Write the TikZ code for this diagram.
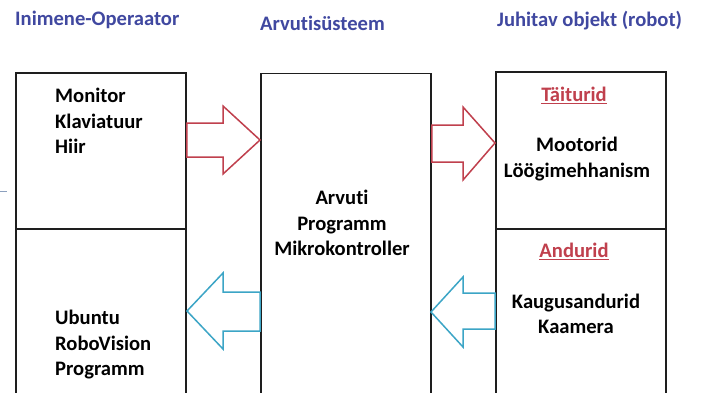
\documentclass[tikz,border=0pt]{standalone}
\usepackage{fontspec}
\setmainfont[Ligatures=CommonOff]{Carlito}
\definecolor{titleblue}{RGB}{64,72,160}
\definecolor{arrred}{RGB}{192,64,77}
\definecolor{arrblue}{RGB}{60,165,198}
\definecolor{boxline}{RGB}{30,30,30}
\definecolor{strayline}{RGB}{140,160,190}
\begin{document}
\begin{tikzpicture}[x=1pt,y=-1pt,
  box/.style={draw=boxline, line width=1.8pt, fill=white, inner sep=0pt},
  title/.style={text=titleblue, font=\fontsize{20.6}{24}\selectfont\bfseries, inner sep=0pt},
  body/.style={text=black, font=\fontsize{20.6}{25.5}\selectfont\bfseries, inner sep=0pt},
  head/.style={text=arrred, font=\fontsize{20.6}{25}\selectfont\bfseries, inner sep=0pt},
  redarr/.style={draw=arrred, line width=1.5pt, fill=white, line join=miter},
  bluearr/.style={draw=arrblue, line width=1.5pt, fill=white, line join=miter}]
\clip (0,0) rectangle (702,392);
\fill[white] (0,0) rectangle (702,392);
% titles
\node[title, anchor=west] (t1) at (15,20) {Inimene-Operaator};
\node[title, anchor=west] (t2) at (260,23) {Arvutisüsteem};
\node[title, anchor=west] (t3) at (497,21) {Juhitav objekt (robot)};
% stray line
\draw[strayline, line width=1pt] (0,191) -- (7,191);
% boxes
\node[box, anchor=north west, minimum width=170pt, minimum height=156pt] (Lt) at (15,72) {};
\node[box, anchor=north west, minimum width=170pt, minimum height=200pt] (Lb) at (15,228) {};
\node[box, anchor=north west, minimum width=170pt, minimum height=360pt] (M) at (260,72.5) {};
\node[box, anchor=north west, minimum width=170pt, minimum height=157pt] (Rt) at (495,71) {};
\node[box, anchor=north west, minimum width=170pt, minimum height=200pt] (Rb) at (495,228) {};
% texts
\node[body, anchor=west, align=left] (lt) at (55,121) {Monitor\\Klaviatuur\\Hiir};
\node[body, anchor=west, align=left] (lb) at (55,345) {Ubuntu\\RoboVision\\Programm};
\node[body, align=center] (mt) at (342,223) {Arvuti\\Programm\\Mikrokontroller};
\node[head] (h1) at (574,95) {\underline{Täiturid}};
\node[body, align=center] (rt) at (577,159) {Mootorid\\Löögimehhanism};
\node[head] (h2) at (574,251) {\underline{Andurid}};
\node[body, align=center] (rb) at (576,314) {Kaugusandurid\\Kaamera};
% arrows
\draw[redarr] (Lt.east |- 0,123) -- (223,123) -- (223,106) -- (M.west |- 0,140)
  -- (223,174) -- (223,157) -- (Lt.east |- 0,157) -- cycle;
\draw[redarr] (M.east |- 0,125) -- (463,125) -- (463,107) -- (Rt.west |- 0,143)
  -- (463,180) -- (463,162) -- (M.east |- 0,162) -- cycle;
\draw[bluearr] (M.west |- 0,292) -- (223,292) -- (223,273) -- (187,311)
  -- (223,349) -- (223,331) -- (M.west |- 0,331) -- cycle;
\draw[bluearr] (Rb.west |- 0,293) -- (463,293) -- (463,277) -- (431,312)
  -- (463,347) -- (463,329) -- (Rb.west |- 0,329) -- cycle;
\end{tikzpicture}
\end{document}
